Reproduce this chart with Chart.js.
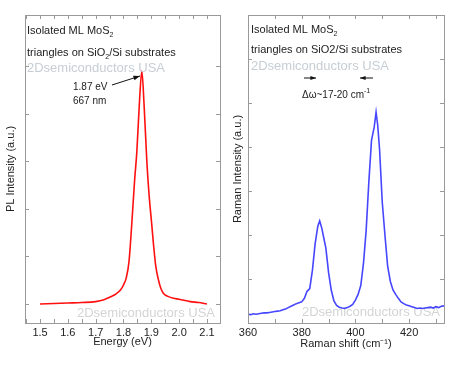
<!DOCTYPE html>
<html>
<head>
<meta charset="utf-8">
<script src="https://cdn.jsdelivr.net/npm/chart.js@4"></script>
<style>
html,body{margin:0;padding:0;background:#fff;}
#wrap{position:relative;width:476px;height:368px;overflow:hidden;}
#c1{position:absolute;left:0;top:0;}
#c2{position:absolute;left:226px;top:0;}
</style>
</head>
<body>
<div id="wrap">
  <canvas id="c1" width="236" height="368"></canvas>
  <canvas id="c2" width="250" height="368"></canvas>
</div>
<script>
// PL spectrum (left)
const pl_energy = [1.50,1.55,1.60,1.65,1.70,1.73,1.75,1.77,1.79,1.80,1.81,1.82,1.83,1.84,1.848,1.857,1.866,1.874,1.884,1.892,1.902,1.908,1.916,1.926,1.935,1.944,1.96,1.98,2.00,2.04,2.07,2.10]
const pl_intensity = [0.00,0.01,0.02,0.03,0.05,0.09,0.14,0.20,0.30,0.40,0.55,0.90,1.70,2.60,3.20,4.20,4.90,4.20,3.00,2.30,1.65,1.25,0.80,0.50,0.32,0.22,0.16,0.12,0.10,0.05,0.03,0.00]
const pl_ticks = [1.5,1.6,1.7,1.8,1.9,2.0,2.1]

// Raman spectrum (right)
const raman_shift = [360,361,362,363,364,365,366,367,368,369,370,371,372,373,374,375,376,377,378,379,380,381,382,383,384,385,386,386.7,387.5,388,389,390,391,392,393,394,395,396,397,398,399,400,401,402,403,404,405,406,407,407.7,408.3,409,410,411,412,413,414,415,416,417,418,419,420,421,422,423,424,425,426,427,428,429,430,431,432,433]
const raman_intensity = [0.20,0.19,0.21,0.20,0.21,0.22,0.23,0.23,0.24,0.25,0.26,0.27,0.28,0.30,0.32,0.35,0.38,0.41,0.44,0.46,0.48,0.56,0.72,0.78,1.20,1.80,2.20,2.32,2.15,2.00,1.70,1.15,0.75,0.50,0.40,0.36,0.34,0.33,0.35,0.38,0.42,0.52,0.65,0.85,1.35,2.10,3.20,4.15,4.45,4.79,4.50,3.95,2.75,2.00,1.30,0.95,0.75,0.65,0.56,0.48,0.44,0.41,0.39,0.37,0.35,0.33,0.34,0.33,0.34,0.35,0.36,0.34,0.37,0.35,0.38,0.39]
const raman_ticks = [360,380,400,420]

const FONT = "'Liberation Sans', Arial, sans-serif"

function write(ctx, parts, x, y) {
    // parts: [text, size, dy]
    let cx = x
    for (const [t, size, dy] of parts) {
        ctx.font = size + "px " + FONT
        ctx.fillText(t, cx, y + dy)
        cx += ctx.measureText(t).width
    }
}

function arrow(ctx, x1, y1, x2, y2, head) {
    ctx.strokeStyle = "#111"
    ctx.fillStyle = "#111"
    ctx.lineWidth = 1
    ctx.beginPath(); ctx.moveTo(x1, y1); ctx.lineTo(x2, y2); ctx.stroke()
    const a = Math.atan2(y2 - y1, x2 - x1)
    ctx.beginPath()
    ctx.moveTo(x2, y2)
    ctx.lineTo(x2 - head * Math.cos(a - 0.35), y2 - head * Math.sin(a - 0.35))
    ctx.lineTo(x2 - head * Math.cos(a + 0.35), y2 - head * Math.sin(a + 0.35))
    ctx.closePath(); ctx.fill()
}

// frame with inward ticks, drawn from the chart's own scales
const framePlugin = {
    id: "frame",
    afterDraw(chart, args, opts) {
        const ctx = chart.ctx
        const a = chart.chartArea
        const xs = chart.scales.x, ys = chart.scales.y
        ctx.save()
        ctx.strokeStyle = "#9a9a9a"
        ctx.lineWidth = 1
        ctx.strokeRect(a.left + 0.5, a.top + 0.5, a.right - a.left, a.bottom - a.top)
        ctx.beginPath()
        const mstep = opts.minor
        for (let v = Math.ceil(xs.min / mstep) * mstep; v <= xs.max + 1e-9; v += mstep) {
            const px = Math.round(xs.getPixelForValue(v)) + 0.5
            ctx.moveTo(px, a.bottom); ctx.lineTo(px, a.bottom - 4)
            ctx.moveTo(px, a.top); ctx.lineTo(px, a.top + 4)
        }
        for (const t of ys.ticks) {
            const py = Math.round(ys.getPixelForValue(t.value)) + 0.5
            ctx.moveTo(a.left, py); ctx.lineTo(a.left + 4, py)
            ctx.moveTo(a.right, py); ctx.lineTo(a.right - 4, py)
        }
        ctx.stroke()
        ctx.restore()
    }
}

const textPlugin = {
    id: "texts",
    beforeDatasetsDraw(chart, args, opts) {
        const ctx = chart.ctx
        ctx.save()
        ctx.textBaseline = "middle"
        ctx.fillStyle = "#d2d4d6"
        write(ctx, [["2Dsemiconductors USA", 13, 0]], opts.wm[0], opts.wm[1])
        ctx.restore()
    },
    afterDraw(chart, args, opts) {
        const ctx = chart.ctx
        ctx.save()
        ctx.textBaseline = "middle"
        ctx.fillStyle = "#222"
        for (const line of opts.lines) write(ctx, line.parts, line.x, line.y)
        ctx.fillStyle = "#c6ced4"
        write(ctx, [["2Dsemiconductors USA", 13, 0]], opts.top_wm[0], opts.top_wm[1])
        for (const ar of opts.arrows) arrow(ctx, ar[0], ar[1], ar[2], ar[3], ar[4])
        ctx.restore()
    }
}

function make_chart(id, xs, ys, color, xmin, xmax, ymin, ymax, ticks, fmt, xtitle, ytitle, opt) {
    return new Chart(document.getElementById(id), {
        type: "line",
        data: {
            datasets: [{
                data: xs.map((x, i) => ({x: x, y: ys[i]})),
                borderColor: color,
                borderWidth: 1.6,
                pointRadius: 0,
                fill: false,
                tension: opt.tension,
                cubicInterpolationMode: opt.tension ? "monotone" : "default"
            }]
        },
        options: {
            responsive: false,
            animation: false,
            layout: {padding: {top: 15, right: opt.right, left: 0, bottom: 0}},
            plugins: {
                legend: {display: false},
                tooltip: {enabled: false},
                frame: {minor: opt.minor},
                texts: opt.texts
            },
            scales: {
                x: {
                    type: "linear", min: xmin, max: xmax,
                    afterBuildTicks: s => { s.ticks = ticks.map(v => ({value: v})) },
                    afterFit: s => { s.height = 45 },
                    ticks: {callback: fmt, color: "#222", font: {size: 11, family: FONT}, padding: 3, maxRotation: 0, autoSkip: false},
                    grid: {display: false, drawTicks: false},
                    border: {display: false},
                    title: {display: true, text: xtitle, color: "#222", font: {size: 11, family: FONT}, padding: {top: 0, bottom: opt.xtpad}}
                },
                y: {
                    type: "linear", min: ymin, max: ymax,
                    ticks: {display: false, stepSize: 1},
                    afterBuildTicks: s => { s.ticks = s.ticks.filter(t => Number.isInteger(t.value)) },
                    afterFit: s => { s.width = opt.yw },
                    grid: {display: false, drawTicks: false},
                    border: {display: false},
                    title: {display: true, text: ytitle, color: "#222", font: {size: 11, family: FONT}, padding: {top: opt.ytpad, bottom: 0}}
                }
            }
        },
        plugins: [framePlugin, textPlugin]
    })
}

make_chart("c1", pl_energy, pl_intensity, "#ff1010", 1.446, 2.147, -0.4, 6.08, pl_ticks,
    v => v.toFixed(1), "Energy (eV)", "PL Intensity (a.u.)", {
    tension: 0.3, right: 16, yw: 25, xtpad: 19, ytpad: 4, minor: 0.05,
    texts: {
        wm: [77, 313],
        top_wm: [27, 68],
        lines: [
            {x: 27, y: 31, parts: [["Isolated ML MoS", 11, 0], ["2", 7, 4]]},
            {x: 27, y: 53, parts: [["triangles on SiO", 11, 0], ["2", 7, 4], ["/Si substrates", 11, 0]]},
            {x: 73, y: 87, parts: [["1.87 eV", 10, 0]]},
            {x: 73, y: 101, parts: [["667 nm", 10, 0]]}
        ],
        arrows: [[112, 85, 140, 76, 7]]
    }
})

make_chart("c2", raman_shift, raman_intensity, "#4646ff", 360, 433, 0, 7, raman_ticks,
    v => String(v), "Raman shift (cm\u207B\u00B9)", "Raman Intensity (a.u.)", {
    tension: 0, right: 32, yw: 22, xtpad: 17, ytpad: 5, minor: 10,
    texts: {
        wm: [302 - 226, 312],
        top_wm: [251 - 226, 66],
        lines: [
            {x: 251 - 226, y: 30, parts: [["Isolated ML MoS", 11, 0], ["2", 7, 4]]},
            {x: 251 - 226, y: 50, parts: [["triangles on SiO2/Si substrates", 11, 0]]},
            {x: 302 - 226, y: 95, parts: [["\u0394\u03C9~17-20 cm", 10, 0], ["-1", 7, -4]]}
        ],
        arrows: [[304 - 226, 78, 316 - 226, 78, 6], [373 - 226, 78, 360 - 226, 78, 6]]
    }
})
</script>
</body>
</html>
